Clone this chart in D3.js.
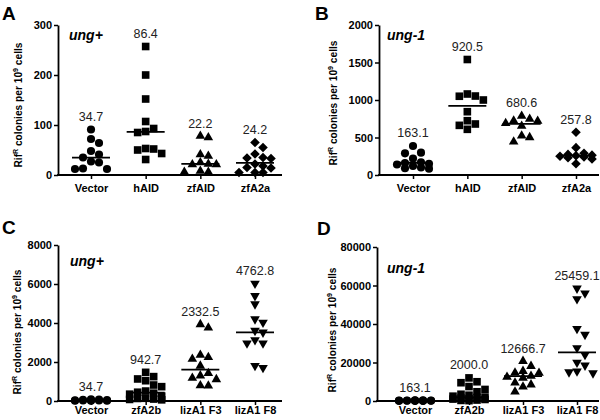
<!DOCTYPE html>
<html>
<head>
<meta charset="utf-8">
<script src="https://cdn.jsdelivr.net/npm/d3@7"></script>
<style>
  body { margin: 0; background: #fff; }
  svg { display: block; font-family: "Liberation Sans", Arial, Helvetica, sans-serif; }
</style>
</head>
<body>
<script>
// ---- data ----
const catsAB = ["Vector", "hAID", "zfAID", "zfA2a"];
const catsCD = ["Vector", "zfA2b", "lizA1 F3", "lizA1 F8"];

const vectorUngPlus = [91, 72, 64, 48, 41, 35, 27, 25, 13, 12, 12];
const vectorUng1 = [387, 298, 289, 220, 170, 160, 150, 140, 120, 100, 90, 85];

// A: ung+
const aHAID = [257, 200, 152, 107, 93, 87, 85, 53, 52, 50, 43, 31];
const aZfAID = [78, 75, 41, 38, 25, 22, 21, 21, 8, 6, 6];
const aZfA2a = [65, 55, 42, 35, 34, 33, 22, 18, 15, 14, 5, 5, 5];
const aLabels = ["34.7", "86.4", "22.2", "24.2"];
const aLines = [34.7, 86.4, 22.2, 24.2];
const aTicks = [0, 100, 200, 300];

// B: ung-1
const bHAID = [1540, 1080, 1053, 1050, 1000, 844, 724, 680, 662, 609];
const bZfAID = [787, 747, 724, 720, 689, 653, 524, 502, 444];
const bZfA2a = [570, 365, 290, 275, 265, 258, 250, 240, 230, 215, 150];
const bLabels = ["163.1", "920.5", "680.6", "257.8"];
const bLines = [163.1, 920.5, 680.6, 257.8];
const bTicks = [0, 500, 1000, 1500, 2000];

// C: ung+
const cZfA2b = [1470, 1250, 1130, 1040, 820, 735, 510, 450, 400, 350, 250, 140, 130, 100, 80, 60];
const cF3 = [3930, 3760, 2360, 2240, 2150, 1800, 1420, 1300, 1180, 1110, 790, 780];
const cF8 = [6030, 5390, 4970, 4200, 4030, 3610, 3520, 3130, 2960, 2960, 1810, 1710];
const cLabels = ["34.7", "942.7", "2332.5", "4762.8"];
const cLines = [34.7, 427, 1610, 3520];
const cTicks = [0, 2000, 4000, 6000, 8000];

// D: ung-1
const dZfA2b = [12000, 10000, 9500, 7500, 6000, 4800, 3500, 3000, 2500, 2000, 1800, 1500, 1200, 1000, 800, 500, 300, 200];
const dF3 = [20700, 18100, 15500, 14700, 14500, 13000, 12500, 12000, 9500, 8500, 7400, 4800];
const dF8 = [58500, 56000, 53000, 37500, 34500, 27500, 24000, 20000, 18500, 15500, 15000, 14500];
const dLabels = ["163.1", "2000.0", "12666.7", "25459.1"];
const dLines = [163.1, 1900, 12960, 25250];
const dTicks = [0, 20000, 40000, 60000, 80000];

// ---- drawing ----
const W = 600, H = 420;
const svg = d3.select("body").append("svg").attr("width", W).attr("height", H);
svg.append("rect").attr("width", W).attr("height", H).attr("fill", "#fff");

const CIRCLE = {type: d3.symbolCircle, size: 52, rot: 0};
const SQUARE = {type: d3.symbolSquare, size: 58, rot: 0};
const TRI = {type: d3.symbolTriangle, size: 40, rot: 0};
const DIAMOND = {type: d3.symbolSquare, size: 46, rot: 45};
const INVTRI = {type: d3.symbolTriangle, size: 40, rot: 180};

const panels = [
  {letter: "A", lx: 2, ly: 20, tag: "ung+", tx: 69, ty: 40, axisX: 58, xEnd: 282, yTop: 25, yBot: 175,
   catRange: [91, 255], ticks: aTicks, cats: catsAB, groups: [vectorUngPlus, aHAID, aZfAID, aZfA2a],
   labels: aLabels, lines: aLines, shapes: [CIRCLE, SQUARE, TRI, DIAMOND], titleX: 22, titleY: 105, xLabelY: 192},
  {letter: "B", lx: 315, ly: 20, tag: "ung-1", tx: 387, ty: 40, axisX: 379, xEnd: 599, yTop: 25, yBot: 175,
   catRange: [413, 576], ticks: bTicks, cats: catsAB, groups: [vectorUng1, bHAID, bZfAID, bZfA2a],
   labels: bLabels, lines: bLines, shapes: [CIRCLE, SQUARE, TRI, DIAMOND], titleX: 337, titleY: 103, xLabelY: 192},
  {letter: "C", lx: 2, ly: 234, tag: "ung+", tx: 70, ty: 266, axisX: 58, xEnd: 282, yTop: 245, yBot: 401,
   catRange: [91, 255], ticks: cTicks, cats: catsCD, groups: [vectorUngPlus, cZfA2b, cF3, cF8],
   labels: cLabels, lines: cLines, shapes: [CIRCLE, SQUARE, TRI, INVTRI], titleX: 21, titleY: 332, xLabelY: 414},
  {letter: "D", lx: 317, ly: 235, tag: "ung-1", tx: 387, ty: 273, axisX: 377, xEnd: 599, yTop: 247, yBot: 401,
   catRange: [415, 577], ticks: dTicks, cats: catsCD, groups: [vectorUng1, dZfA2b, dF3, dF8],
   labels: dLabels, lines: dLines, shapes: [CIRCLE, SQUARE, TRI, INVTRI], titleX: 336, titleY: 330, xLabelY: 414}
];

// simple beeswarm: spread points sideways when they'd overlap
function swarm(vals, y, cx, step, maxK, dmin) {
  const placed = [];
  const ks = [0];
  for (let k = 1; k <= maxK; k++) ks.push(k, -k);
  vals.slice().sort((a, b) => b - a).forEach(v => {
    const py = y(v);
    let chosen = null, best = cx, bestScore = -1;
    for (const k of ks) {
      const px = cx + k * step;
      let minD = Infinity;
      placed.forEach(p => { minD = Math.min(minD, Math.hypot(p.x - px, p.y - py)); });
      if (minD >= dmin) { chosen = px; break; }
      if (minD > bestScore) { bestScore = minD; best = px; }
    }
    placed.push({x: chosen !== null ? chosen : best, y: py, v: v});
  });
  return placed;
}

panels.forEach(p => {
  const g = svg.append("g");
  const y = d3.scaleLinear().domain([0, p.ticks[p.ticks.length - 1]]).range([p.yBot, p.yTop]);
  const x = d3.scalePoint().domain(p.cats).range(p.catRange);

  // panel letter
  g.append("text").attr("x", p.lx).attr("y", p.ly)
    .attr("font-size", 19).attr("font-weight", "bold").text(p.letter);

  // y axis
  const ya = g.append("g").attr("transform", `translate(${p.axisX},0)`)
    .call(d3.axisLeft(y).tickValues(p.ticks).tickSize(4).tickSizeOuter(0).tickPadding(2).tickFormat(d3.format("d")));
  ya.select(".domain").attr("stroke-width", 1.8);
  ya.selectAll(".tick line").attr("stroke-width", 1.5);
  ya.selectAll(".tick text").attr("font-size", 11).attr("font-weight", "bold")
    .attr("font-family", "Liberation Sans, Arial, sans-serif").attr("fill", "#000");

  // x axis (line drawn across full width, ticks at categories)
  g.append("line").attr("x1", p.axisX - 0.9).attr("x2", p.xEnd)
    .attr("y1", p.yBot).attr("y2", p.yBot).attr("stroke", "#000").attr("stroke-width", 1.8);
  const xa = g.append("g").attr("transform", `translate(0,${p.yBot})`)
    .call(d3.axisBottom(x).tickSize(4).tickSizeOuter(0).tickPadding(0));
  xa.select(".domain").remove();
  xa.selectAll(".tick line").attr("stroke-width", 1.5);
  xa.selectAll(".tick text").attr("font-size", 11).attr("font-weight", "bold")
    .attr("font-family", "Liberation Sans, Arial, sans-serif").attr("fill", "#000")
    .attr("dy", null).attr("y", p.xLabelY - p.yBot);

  // y title
  const t = g.append("text")
    .attr("transform", `translate(${p.titleX},${p.titleY}) rotate(-90)`)
    .attr("text-anchor", "middle").attr("font-size", 10.2).attr("font-weight", "bold");
  t.append("tspan").text("Rif");
  t.append("tspan").attr("font-size", 7).attr("dy", -4).text("R");
  t.append("tspan").attr("dy", 4).text(" colonies per 10");
  t.append("tspan").attr("font-size", 7).attr("dy", -4).text("9");
  t.append("tspan").attr("dy", 4).text(" cells");

  // strain tag
  g.append("text").attr("x", p.tx).attr("y", p.ty)
    .attr("font-size", 14).attr("font-weight", "bold").attr("font-style", "italic").text(p.tag);

  // points, lines, labels
  p.groups.forEach((vals, i) => {
    const cx = x(p.cats[i]);
    const sh = p.shapes[i];
    const pts = swarm(vals, y, cx, 8, 2, 8);
    const sym = d3.symbol().type(sh.type).size(sh.size);
    g.append("g").selectAll("path").data(pts).join("path")
      .attr("d", sym)
      .attr("transform", d => `translate(${d.x},${d.y}) rotate(${sh.rot})`)
      .attr("fill", "#000");

    g.append("line").attr("x1", cx - 19).attr("x2", cx + 19)
      .attr("y1", y(p.lines[i])).attr("y2", y(p.lines[i]))
      .attr("stroke", "#000").attr("stroke-width", 1.8);

    g.append("text").attr("x", cx).attr("y", y(d3.max(vals)) - 8.5)
      .attr("text-anchor", "middle").attr("font-size", 12.5).attr("fill", "#222")
      .text(p.labels[i]);
  });
});
</script>
</body>
</html>
